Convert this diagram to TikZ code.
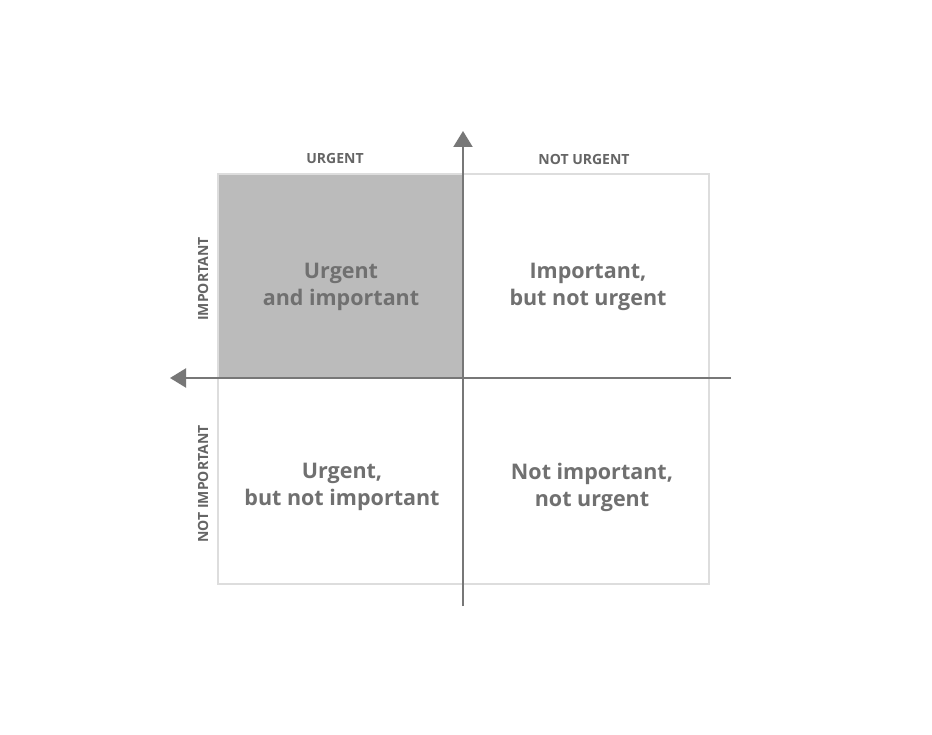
\documentclass[tikz,border=0pt]{standalone}
\usepackage{fontspec}
\setmainfont{Open Sans}
\usetikzlibrary{arrows.meta}
\definecolor{axisgray}{HTML}{777777}
\definecolor{textgray}{HTML}{707070}
\definecolor{framegray}{HTML}{DDDDDD}
\definecolor{fillgray}{HTML}{BBBBBB}
\tikzset{
  axis/.style={draw=axisgray, line width=2pt, -{Triangle[length=16pt,width=19pt]}},
  quadlabel/.style={text=textgray, font=\fontsize{21.5}{27}\selectfont\bfseries, align=center},
  sidelabel/.style={text=textgray!90!black, font=\fontsize{14}{16}\selectfont\bfseries},
}
\begin{document}
\begin{tikzpicture}[x=1pt,y=-1pt]
\useasboundingbox[fill=white] (0,0) rectangle (932,735);
% quadrant frame and highlighted quadrant
\fill[fillgray] (218,174) rectangle (463,378);
\draw[framegray, line width=1.5pt] (218,174) rectangle (709,584);
% axes
\coordinate (vbot) at (463,606);
\coordinate (vtop) at (463,131);
\coordinate (hright) at (731,378);
\coordinate (hleft) at (170,378);
\draw[axis] (vbot) -- (vtop);
\draw[axis] (hright) -- (hleft);
% column and row labels
\node[sidelabel] (urg) at (335,159) {URGENT};
\node[sidelabel] (nurg) at (584,159) {NOT URGENT};
\node[sidelabel, rotate=90] (imp) at (203,279) {IMPORTANT};
\node[sidelabel, rotate=90] (nimp) at (203,484) {NOT IMPORTANT};
% quadrant texts
\node[quadlabel] (q1) at (341,287) {Urgent\\and important};
\node[quadlabel] (q2) at (588,287) {Important,\\but not urgent};
\node[quadlabel] (q3) at (342,487) {Urgent,\\but not important};
\node[quadlabel] (q4) at (592,487) {Not important,\\not urgent};
\end{tikzpicture}
\end{document}
